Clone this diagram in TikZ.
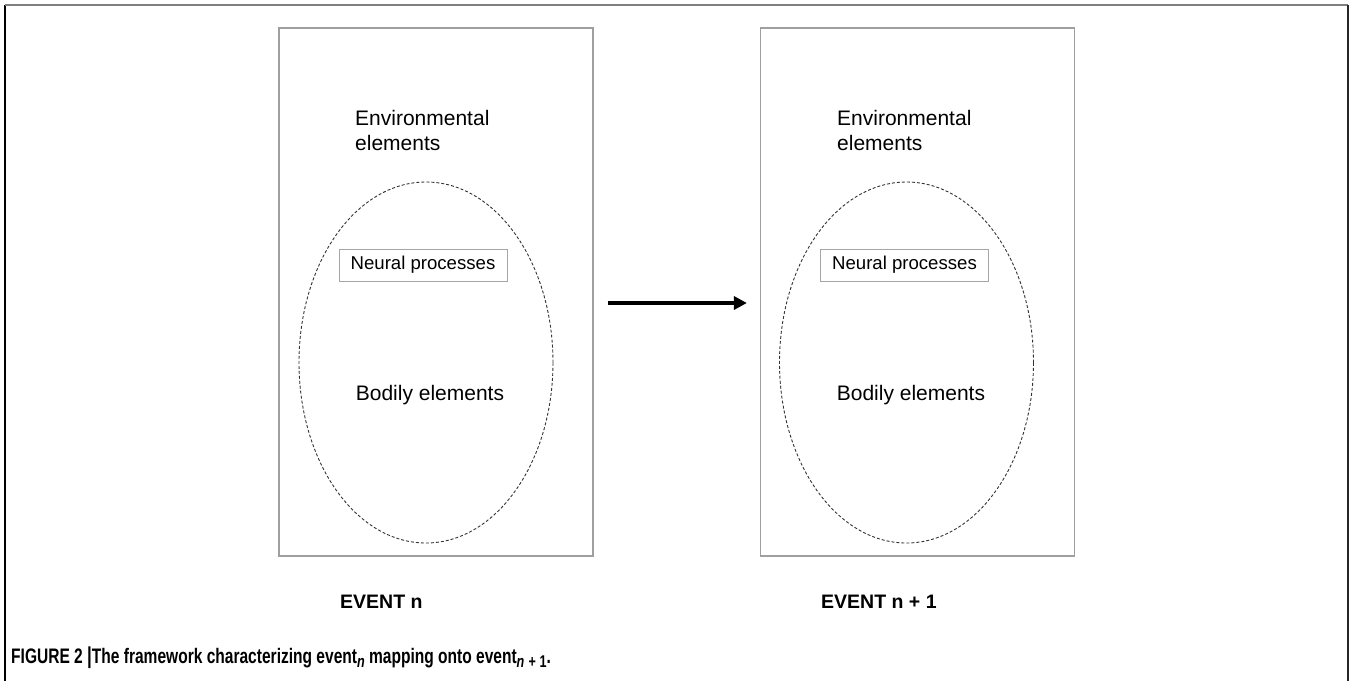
\documentclass[tikz,border=0pt]{standalone}
\usepackage{fontspec}
\setmainfont{Liberation Sans}
\newfontfamily\capfont[FakeStretch=0.74]{Liberation Sans}
\usetikzlibrary{shapes,arrows.meta}

\begin{document}
\begin{tikzpicture}[x=1pt,y=-1pt,
  eventbox/.style={draw=gray!75,line width=1.2pt,minimum width=314pt,minimum height=528pt,inner sep=0pt},
  bodyell/.style={ellipse,draw=black!80,dash pattern=on 3pt off 2pt,line width=0.9pt,minimum width=254pt,minimum height=361pt,inner sep=0pt},
  neurbox/.style={draw=gray!70,line width=1pt,minimum width=168pt,minimum height=32pt,inner sep=0pt,font=\fontsize{18.6}{20}\selectfont},
  elemtext/.style={inner sep=0pt,font=\fontsize{21}{25}\selectfont},
  evlabel/.style={inner sep=0pt,anchor=base west,font=\fontsize{19.5}{22}\selectfont\bfseries}]
\useasboundingbox (0,0) rectangle (1350,681);

% frame round the figure
\draw[black,line width=1.5pt] (5,681) -- (5,5);
\draw[gray,line width=2pt] (5,5) -- (1348,5);
\draw[black!85,line width=1.5pt] (1348,5) -- (1348,681);

\node[eventbox] (box1) at (436,292) {};
\node[bodyell] (ell1) at (426,362.5) {};
\node[elemtext, anchor=north west, align=left] (env1) at (355,110) {Environmental\\elements};
\node[neurbox] (neur1) at (423,265) {Neural processes};
\node[elemtext, anchor=base] (body1) at (430,400) {Bodily elements};

\node[eventbox] (box2) at (917.5,292) {};
\node[bodyell] (ell2) at (906.5,362.5) {};
\node[elemtext, anchor=north west, align=left] (env2) at (837,110) {Environmental\\elements};
\node[neurbox] (neur2) at (904.5,265) {Neural processes};
\node[elemtext, anchor=base] (body2) at (911,400) {Bodily elements};

\draw[line width=3.5pt, -{Triangle[length=13pt,width=13pt]}, shorten <=14pt, shorten >=13pt]
  ([yshift=-11pt]box1.east) -- ([yshift=-11pt]box2.west);

\node[evlabel] (ev1) at (340,608) {EVENT n};
\node[evlabel] (ev2) at (821,608) {EVENT n + 1};

\node[inner sep=0pt, anchor=base west, font=\fontsize{21}{22}\selectfont\capfont\bfseries] (cap) at (11,663)
  {FIGURE 2 {\fontsize{23}{23}\selectfont|}The framework characterizing event\raisebox{-4pt}{\fontsize{17}{17}\selectfont\itshape n} mapping onto event\raisebox{-4pt}{\fontsize{17}{17}\selectfont\itshape n} \raisebox{-4pt}{\fontsize{17}{17}\selectfont + 1}.};
\end{tikzpicture}
\end{document}
